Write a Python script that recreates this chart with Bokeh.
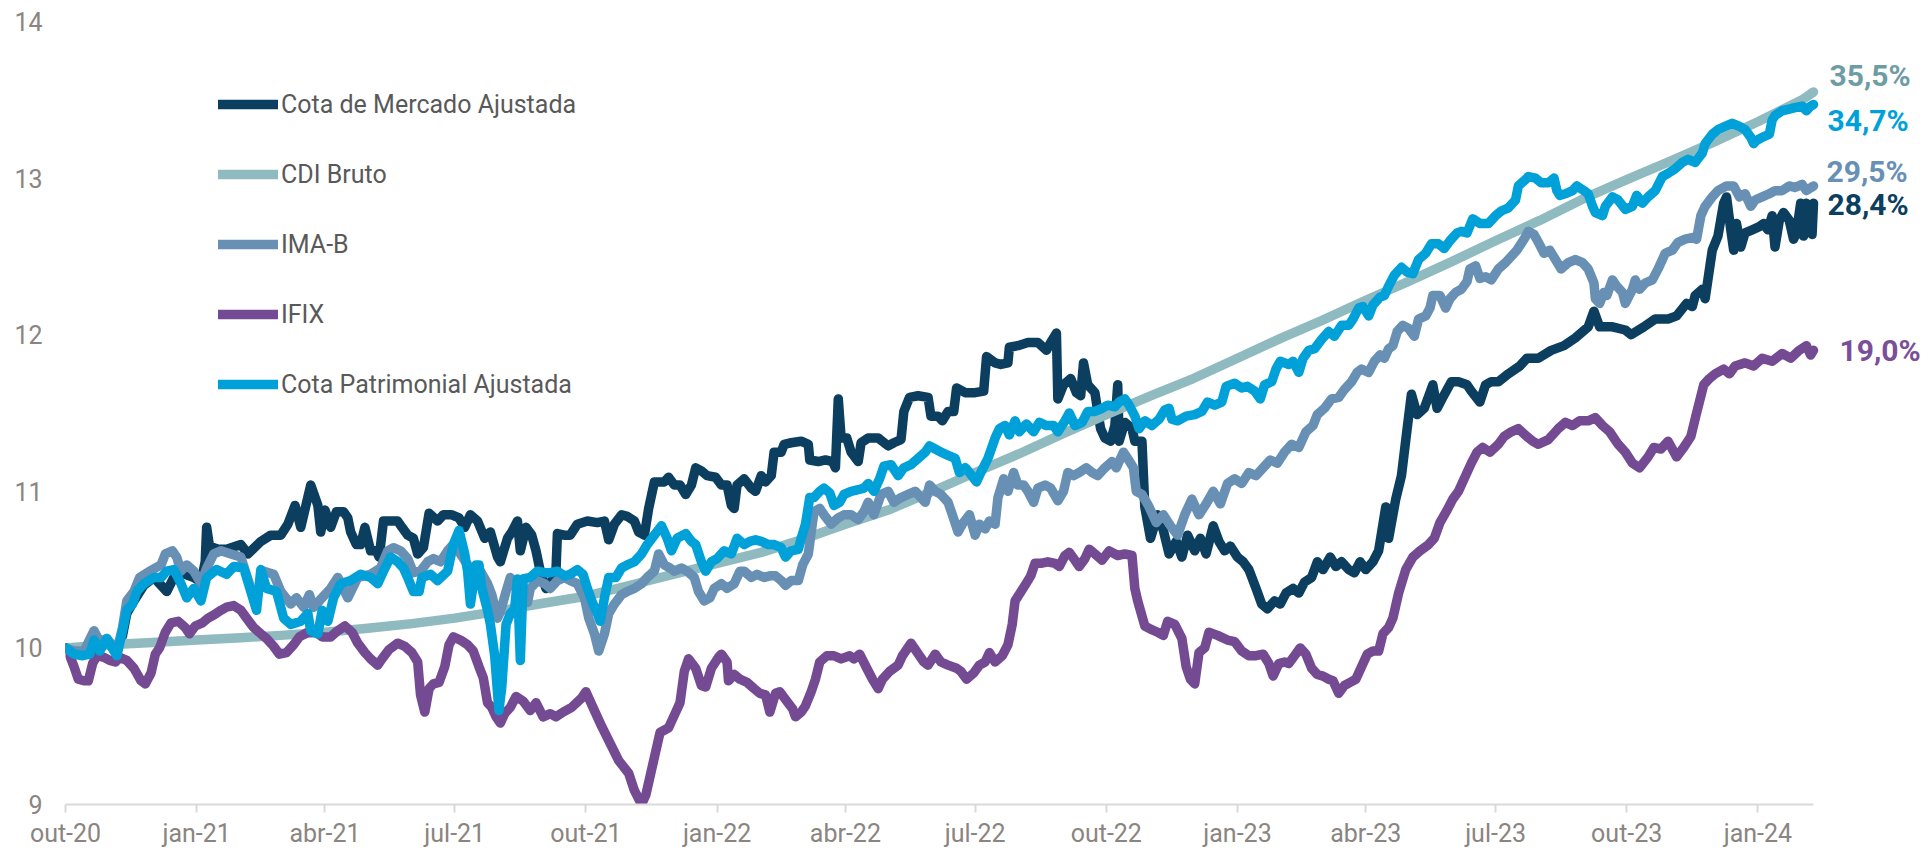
from datetime import date
from bokeh.plotting import figure
from bokeh.models import Range1d, FixedTicker, Legend, LegendItem, Label
from bokeh.embed import file_html
from bokeh.resources import INLINE

# ---------------- data (day offset from 2020-10-01, index value) ----------------
START = date(2020, 10, 1)

tick_dates = [date(2020, 10, 1), date(2021, 1, 1), date(2021, 4, 1), date(2021, 7, 1),
              date(2021, 10, 1), date(2022, 1, 1), date(2022, 4, 1), date(2022, 7, 1),
              date(2022, 10, 1), date(2023, 1, 1), date(2023, 4, 1), date(2023, 7, 1),
              date(2023, 10, 1), date(2024, 1, 1)]
tick_labels = ["out-20", "jan-21", "abr-21", "jul-21", "out-21", "jan-22", "abr-22",
               "jul-22", "out-22", "jan-23", "abr-23", "jul-23", "out-23", "jan-24"]
y_ticks = [9, 10, 11, 12, 13, 14]

series_names = ["Cota de Mercado Ajustada", "CDI Bruto", "IMA-B", "IFIX",
                "Cota Patrimonial Ajustada"]
final_labels = ["28,4%", "35,5%", "29,5%", "19,0%", "34,7%"]

mercado = [(0,10.00),(6,9.97),(13,9.97),(20,10.05),(29,10.04),(36,9.97),(40,10.08),(43,10.22),
    (48,10.30),(55,10.40),(62,10.45),(67,10.40),(71,10.36),(76,10.45),(81,10.48),(90,10.45),
    (95,10.42),(98,10.55),(99,10.77),(101,10.65),(107,10.63),(113,10.63),(123,10.66),(128,10.60),
    (137,10.68),(144,10.72),(151,10.72),(156,10.79),(161,10.91),(165,10.77),(172,11.04),(177,10.91),
    (179,10.74),(182,10.88),(186,10.77),(190,10.87),(195,10.87),(198,10.83),(200,10.74),(204,10.66),
    (207,10.66),(210,10.77),(214,10.62),(218,10.62),(220,10.58),(223,10.81),(233,10.81),(236,10.77),
    (240,10.72),(244,10.70),(247,10.60),(251,10.64),(255,10.86),(261,10.81),(265,10.85),(271,10.85),
    (276,10.83),(280,10.77),(284,10.85),(289,10.81),(294,10.70),(298,10.74),(303,10.58),(305,10.55),
    (310,10.70),(313,10.74),(317,10.81),(319,10.62),(323,10.77),(327,10.72),(330,10.62),(333,10.49),
    (337,10.38),(340,10.40),(344,10.49),(345,10.73),(350,10.72),(354,10.72),(359,10.79),(366,10.81),
    (373,10.80),(378,10.81),(381,10.69),(385,10.79),(390,10.85),(394,10.84),(399,10.81),(402,10.74),
    (406,10.72),(409,10.89),(413,11.06),(420,11.06),(423,11.09),(427,11.04),(431,11.04),(435,10.98),
    (439,11.04),(442,11.15),(446,11.13),(450,11.10),(456,11.09),(460,11.04),(464,11.04),(467,10.91),
    (469,10.89),(471,11.04),(476,11.08),(481,11.02),(484,11.00),(488,11.10),(491,11.06),(495,11.10),
    (497,11.25),(502,11.25),(504,11.30),(509,11.31),(516,11.32),(521,11.30),(522,11.20),(528,11.19),
    (533,11.20),(538,11.19),(540,11.15),(542,11.59),(544,11.34),(548,11.34),(551,11.25),(556,11.19),
    (558,11.31),(563,11.34),(570,11.34),(577,11.29),(581,11.31),(586,11.33),(588,11.51),(592,11.60),
    (598,11.61),(605,11.60),(607,11.48),(612,11.48),(615,11.45),(619,11.51),(623,11.51),(625,11.66),
    (631,11.63),(638,11.63),(644,11.64),(646,11.86),(652,11.82),(656,11.81),(661,11.82),(662,11.92),
    (668,11.93),(675,11.95),(682,11.95),(688,11.90),(691,11.95),(695,12.01),(696,11.59),(700,11.68),
    (705,11.72),(709,11.63),(712,11.61),(714,11.82),(717,11.68),(722,11.63),(724,11.51),(726,11.40),
    (729,11.34),(733,11.32),(736,11.42),(738,11.68),(739,11.32),(743,11.44),(748,11.40),(750,11.32),
    (755,11.32),(757,10.90),(761,10.70),(766,10.85),(770,10.75),(774,10.60),(779,10.68),(783,10.58),
    (787,10.72),(792,10.62),(796,10.70),(800,10.60),(805,10.78),(809,10.68),(813,10.62),(817,10.65),
    (822,10.58),(826,10.55),(830,10.50),(835,10.38),(839,10.28),(843,10.25),(848,10.30),(852,10.28),
    (856,10.35),(861,10.38),(865,10.35),(869,10.42),(874,10.45),(878,10.55),(882,10.50),(887,10.58),
    (891,10.52),(895,10.55),(900,10.50),(904,10.48),(908,10.55),(912,10.50),(917,10.55),(921,10.62),
    (926,10.90),(928,10.70),(933,10.95),(937,11.10),(941,11.40),(944,11.62),(948,11.49),(953,11.53),
    (959,11.68),(962,11.53),(966,11.60),(972,11.70),(977,11.70),(983,11.68),(986,11.64),(992,11.57),
    (996,11.68),(1000,11.70),(1005,11.70),(1012,11.75),(1020,11.80),(1025,11.85),(1033,11.85),
    (1042,11.90),(1051,11.93),(1059,11.98),(1068,12.05),(1072,12.15),(1076,12.05),(1085,12.05),
    (1094,12.03),(1098,12.00),(1107,12.05),(1115,12.10),(1124,12.10),(1130,12.12),(1137,12.20),
    (1141,12.18),(1143,12.25),(1148,12.29),(1150,12.23),(1155,12.54),(1159,12.63),(1163,12.84),
    (1165,12.88),(1168,12.67),(1170,12.54),(1172,12.71),(1175,12.56),(1178,12.65),(1183,12.67),
    (1188,12.69),(1191,12.71),(1194,12.67),(1197,12.76),(1199,12.56),(1202,12.73),(1205,12.78),
    (1209,12.73),(1212,12.61),(1214,12.65),(1217,12.84),(1219,12.63),(1221,12.84),(1224,12.76),
    (1225,12.64),(1226,12.84)]

cdi = [(0,10.00),(30,10.02),(61,10.035),(92,10.05),(123,10.065),(151,10.08),(182,10.10),(212,10.125),
    (243,10.155),(273,10.19),(304,10.235),(335,10.285),(365,10.33),(396,10.40),(426,10.47),(457,10.54),
    (488,10.61),(516,10.69),(547,10.79),(577,10.88),(608,11.00),(638,11.12),(669,11.24),(700,11.37),
    (730,11.49),(761,11.61),(791,11.72),(822,11.85),(853,11.98),(881,12.09),(912,12.22),(942,12.34),
    (973,12.47),(1003,12.60),(1034,12.73),(1065,12.87),(1095,12.99),(1126,13.11),(1156,13.23),
    (1187,13.36),(1218,13.50),(1226,13.55)]

imab = [(0,10.00),(6,9.98),(13,9.98),(20,10.11),(24,10.04),(29,10.06),(36,9.98),(40,10.13),(43,10.30),
    (48,10.36),(52,10.45),(59,10.49),(67,10.53),(70,10.60),(75,10.62),(78,10.58),(81,10.49),(85,10.53),
    (90,10.49),(95,10.41),(99,10.51),(104,10.60),(109,10.62),(116,10.60),(123,10.58),(130,10.38),
    (134,10.32),(139,10.49),(146,10.47),(151,10.36),(158,10.28),(162,10.32),(167,10.26),(171,10.34),
    (174,10.26),(180,10.32),(186,10.38),(191,10.45),(198,10.32),(205,10.45),(214,10.47),(221,10.51),
    (226,10.62),(230,10.64),(235,10.62),(240,10.57),(244,10.48),(249,10.49),(254,10.55),(258,10.57),
    (263,10.55),(268,10.62),(272,10.66),(277,10.60),(282,10.53),(287,10.49),(291,10.49),(296,10.41),
    (299,10.34),(303,10.19),(305,10.23),(309,10.36),(312,10.45),(316,10.38),(319,10.30),(324,10.29),
    (326,10.38),(331,10.43),(336,10.41),(340,10.38),(345,10.43),(350,10.45),(354,10.43),(359,10.41),
    (364,10.32),(367,10.19),(371,10.09),(374,9.98),(378,10.09),(381,10.22),(385,10.28),(390,10.34),
    (394,10.36),(399,10.38),(404,10.41),(408,10.45),(413,10.49),(416,10.60),(420,10.53),(424,10.51),
    (427,10.49),(432,10.51),(436,10.49),(441,10.45),(444,10.36),(448,10.30),(452,10.32),(455,10.38),
    (460,10.41),(464,10.38),(469,10.41),(473,10.49),(476,10.49),(481,10.45),(485,10.47),(490,10.45),
    (494,10.46),(498,10.46),(502,10.43),(505,10.40),(509,10.43),(514,10.43),(517,10.53),(521,10.60),
    (523,10.74),(525,10.87),(529,10.89),(532,10.85),(537,10.79),(542,10.83),(546,10.85),(551,10.85),
    (556,10.82),(560,10.87),(563,10.93),(567,10.85),(572,10.98),(577,11.00),(581,10.93),(586,10.96),
    (591,10.98),(596,11.00),(599,10.97),(603,10.93),(606,11.04),(610,11.00),(614,10.98),(619,10.93),
    (622,10.85),(626,10.74),(629,10.79),(634,10.85),(638,10.72),(641,10.79),(645,10.76),(648,10.81),
    (652,10.79),(654,10.96),(658,11.08),(661,11.00),(665,11.12),(668,11.04),(672,11.04),(675,11.00),
    (679,10.93),(682,11.02),(687,11.04),(691,11.02),(696,10.94),(700,11.00),(703,11.12),(707,11.10),
    (711,11.12),(716,11.15),(720,11.12),(724,11.10),(729,11.15),(734,11.19),(737,11.15),(742,11.25),
    (745,11.21),(749,11.15),(751,11.00),(755,10.98),(760,10.90),(765,10.80),(770,10.85),(775,10.78),
    (780,10.72),(785,10.85),(790,10.95),(795,10.85),(800,10.92),(805,11.00),(810,10.92),(815,11.05),
    (820,11.08),(825,11.05),(830,11.12),(835,11.10),(840,11.15),(845,11.20),(850,11.18),(855,11.25),
    (860,11.30),(865,11.28),(870,11.38),(875,11.42),(878,11.49),(883,11.53),(888,11.59),(893,11.60),
    (897,11.65),(902,11.70),(906,11.76),(909,11.78),(914,11.76),(918,11.83),(922,11.87),(925,11.85),
    (928,11.91),(931,11.93),(934,12.02),(938,12.06),(942,12.04),(946,11.99),(949,12.10),(954,12.12),
    (957,12.17),(959,12.25),(964,12.25),(968,12.17),(971,12.23),(975,12.27),(979,12.29),(983,12.34),
    (985,12.42),(989,12.44),(992,12.36),(996,12.37),(1000,12.35),(1005,12.42),(1010,12.46),(1014,12.50),
    (1018,12.54),(1023,12.61),(1026,12.66),(1030,12.64),(1033,12.59),(1037,12.52),(1041,12.54),
    (1045,12.48),(1049,12.42),(1054,12.46),(1059,12.48),(1064,12.46),(1068,12.42),(1072,12.33),
    (1073,12.23),(1076,12.20),(1079,12.27),(1081,12.25),(1085,12.35),(1088,12.31),(1092,12.27),
    (1094,12.20),(1099,12.29),(1101,12.35),(1104,12.29),(1108,12.33),(1113,12.35),(1117,12.42),
    (1122,12.52),(1127,12.54),(1131,12.59),(1136,12.61),(1141,12.62),(1144,12.61),(1147,12.76),
    (1150,12.82),(1155,12.88),(1159,12.92),(1165,12.95),(1170,12.95),(1174,12.88),(1178,12.90),
    (1182,12.82),(1185,12.86),(1190,12.88),(1195,12.90),(1199,12.92),(1204,12.92),(1209,12.95),
    (1213,12.94),(1218,12.96),(1221,12.92),(1226,12.95)]

ifix = [(0,10.00),(3,9.95),(6,9.88),(9,9.80),(13,9.79),(16,9.79),(19,9.90),(22,9.95),(27,9.94),
    (31,9.92),(35,9.91),(38,9.94),(43,9.92),(48,9.87),(53,9.79),(56,9.77),(60,9.84),(63,9.96),(66,10.00),
    (70,10.10),(74,10.16),(79,10.17),(84,10.13),(87,10.09),(91,10.14),(96,10.16),(100,10.19),(104,10.21),
    (109,10.24),(113,10.26),(118,10.27),(123,10.24),(127,10.19),(132,10.13),(137,10.09),(141,10.06),
    (146,10.01),(150,9.96),(155,9.97),(160,10.02),(164,10.07),(170,10.10),(176,10.10),(180,10.07),
    (186,10.07),(191,10.11),(196,10.14),(201,10.10),(205,10.03),(210,9.97),(214,9.93),(219,9.89),
    (222,9.93),(227,9.99),(233,10.03),(238,10.01),(243,9.97),(247,9.91),(249,9.70),(252,9.59),(255,9.74),
    (258,9.77),(262,9.78),(266,9.88),(269,10.02),(272,10.07),(277,10.05),(282,10.02),(286,9.98),(290,9.88),
    (293,9.81),(296,9.65),(299,9.62),(302,9.56),(305,9.52),(308,9.58),(312,9.62),(316,9.69),(321,9.66),
    (326,9.60),(330,9.65),(335,9.56),(340,9.58),(344,9.56),(349,9.59),(355,9.62),(362,9.68),(365,9.72),
    (370,9.62),(376,9.50),(382,9.39),(388,9.28),(395,9.20),(399,9.09),(404,9.00),(407,9.06),(413,9.30),
    (417,9.46),(423,9.49),(426,9.55),(431,9.65),(434,9.85),(437,9.93),(442,9.87),(446,9.76),(449,9.75),
    (453,9.87),(458,9.94),(460,9.96),(464,9.91),(465,9.79),(469,9.83),(473,9.80),(478,9.78),(483,9.74),
    (487,9.71),(491,9.70),(494,9.59),(498,9.71),(501,9.72),(505,9.67),(510,9.61),(512,9.56),(516,9.59),
    (519,9.63),(523,9.72),(526,9.80),(529,9.91),(534,9.95),(539,9.95),(544,9.93),(550,9.95),(553,9.93),
    (557,9.96),(562,9.87),(566,9.80),(570,9.74),(573,9.80),(578,9.85),(584,9.89),(587,9.95),(593,10.03),
    (596,9.99),(602,9.91),(605,9.89),(610,9.96),(614,9.91),(619,9.89),(625,9.87),(628,9.85),(632,9.80),
    (637,9.84),(641,9.89),(645,9.91),(648,9.97),(652,9.91),(657,9.95),(661,10.02),(664,10.15),(666,10.30),
    (673,10.40),(677,10.46),(680,10.54),(684,10.54),(689,10.55),(694,10.54),(697,10.52),(701,10.59),
    (704,10.61),(708,10.56),(711,10.52),(715,10.57),(718,10.63),(722,10.60),(727,10.56),(732,10.62),
    (738,10.59),(743,10.60),(748,10.59),(750,10.38),(752,10.30),(757,10.14),(761,10.12),(766,10.10),
    (770,10.08),(773,10.17),(778,10.15),(783,10.06),(786,9.88),(789,9.80),(792,9.77),(795,9.97),(799,10.00),
    (802,10.10),(808,10.08),(815,10.05),(820,10.04),(825,9.98),(830,9.95),(835,9.95),(840,9.96),(844,9.90),
    (847,9.82),(851,9.90),(855,9.91),(858,9.90),(862,9.95),(866,10.00),(870,9.96),(874,9.87),(878,9.83),
    (882,9.82),(886,9.80),(889,9.79),(893,9.71),(897,9.76),(901,9.78),(905,9.80),(909,9.88),(913,9.96),
    (917,9.98),(921,9.98),(924,10.09),(928,10.13),(931,10.19),(935,10.35),(940,10.50),(945,10.58),
    (950,10.62),(956,10.66),(960,10.70),(964,10.80),(969,10.88),(973,10.95),(977,11.00),(982,11.10),
    (986,11.18),(990,11.25),(994,11.28),(999,11.25),(1005,11.30),(1009,11.35),(1014,11.38),(1019,11.40),
    (1025,11.35),(1029,11.32),(1033,11.30),(1040,11.33),(1047,11.40),(1052,11.44),(1057,11.42),
    (1062,11.45),(1068,11.45),(1073,11.47),(1078,11.42),(1083,11.38),(1089,11.30),(1094,11.25),
    (1099,11.18),(1104,11.15),(1110,11.22),(1114,11.28),(1119,11.27),(1124,11.32),(1130,11.22),
    (1135,11.28),(1140,11.35),(1144,11.50),(1149,11.68),(1153,11.72),(1157,11.75),(1163,11.78),
    (1167,11.75),(1171,11.80),(1178,11.82),(1184,11.80),(1190,11.85),(1197,11.83),(1204,11.88),
    (1210,11.85),(1216,11.90),(1221,11.93),(1224,11.87),(1226,11.90)]

patrimonial = [(0,10.00),(6,9.96),(12,9.95),(17,9.96),(20,10.05),(24,9.98),(29,10.06),(34,9.98),(36,9.95),
    (40,10.11),(43,10.24),(47,10.28),(50,10.36),(55,10.41),(62,10.45),(67,10.45),(71,10.49),(76,10.50),
    (81,10.41),(85,10.32),(90,10.38),(95,10.30),(99,10.45),(106,10.50),(113,10.47),(118,10.52),(125,10.51),
    (130,10.36),(134,10.24),(137,10.50),(141,10.38),(148,10.36),(153,10.19),(158,10.15),(165,10.17),
    (170,10.22),(172,10.11),(177,10.09),(180,10.24),(184,10.17),(188,10.32),(193,10.41),(200,10.43),
    (207,10.47),(214,10.45),(219,10.41),(223,10.49),(228,10.58),(233,10.55),(237,10.51),(240,10.45),
    (244,10.36),(248,10.36),(250,10.45),(256,10.47),(261,10.43),(268,10.49),(272,10.66),(276,10.75),
    (280,10.60),(282,10.49),(284,10.28),(288,10.53),(290,10.53),(292,10.38),(296,10.24),(298,10.15),
    (301,9.95),(304,9.60),(306,9.75),(309,10.15),(312,10.22),(315,10.25),(317,10.44),(319,9.92),
    (321,10.44),(326,10.45),(331,10.49),(336,10.48),(340,10.48),(345,10.49),(350,10.46),(354,10.47),
    (359,10.50),(363,10.47),(366,10.38),(370,10.28),(373,10.22),(375,10.17),(378,10.32),(381,10.45),
    (386,10.45),(390,10.51),(394,10.53),(399,10.55),(404,10.60),(408,10.66),(413,10.72),(418,10.78),
    (422,10.70),(425,10.62),(429,10.70),(435,10.73),(439,10.68),(442,10.66),(446,10.55),(449,10.49),
    (453,10.55),(457,10.57),(462,10.62),(467,10.60),(471,10.70),(476,10.66),(480,10.68),(484,10.69),
    (488,10.68),(493,10.66),(497,10.66),(502,10.64),(505,10.58),(509,10.62),(514,10.63),(516,10.70),
    (519,10.79),(522,10.96),(525,10.96),(529,11.00),(532,11.02),(536,10.99),(539,10.91),(543,10.93),
    (546,10.98),(551,11.00),(556,11.01),(560,11.02),(563,11.05),(567,11.00),(571,11.08),(574,11.16),
    (579,11.17),(584,11.10),(588,11.15),(593,11.17),(598,11.21),(603,11.25),(606,11.29),(610,11.27),
    (614,11.25),(619,11.23),(624,11.21),(627,11.12),(631,11.15),(634,11.12),(639,11.06),(642,11.12),
    (647,11.21),(652,11.34),(655,11.40),(659,11.42),(662,11.36),(666,11.45),(669,11.38),(674,11.43),
    (679,11.38),(683,11.44),(688,11.42),(693,11.42),(696,11.38),(701,11.45),(704,11.50),(708,11.42),
    (713,11.44),(717,11.51),(722,11.51),(727,11.53),(731,11.55),(736,11.54),(739,11.57),(743,11.59),
    (746,11.55),(750,11.48),(753,11.40),(757,11.45),(762,11.42),(767,11.46),(771,11.52),(774,11.53),
    (776,11.46),(780,11.45),(786,11.48),(792,11.49),(797,11.51),(801,11.57),(806,11.55),(811,11.57),
    (814,11.67),(820,11.69),(825,11.66),(829,11.67),(834,11.64),(838,11.59),(841,11.68),(846,11.70),
    (849,11.78),(852,11.83),(858,11.81),(861,11.83),(865,11.76),(868,11.85),(872,11.90),(876,11.91),
    (881,11.97),(886,12.02),(890,11.99),(895,12.06),(900,12.06),(903,12.10),(907,12.17),(910,12.18),
    (914,12.12),(917,12.19),(922,12.24),(925,12.25),(928,12.31),(932,12.38),(937,12.43),(941,12.40),
    (945,12.39),(949,12.48),(954,12.52),(958,12.58),(963,12.58),(967,12.55),(971,12.60),(976,12.65),
    (979,12.66),(983,12.65),(987,12.74),(992,12.71),(998,12.71),(1003,12.76),(1007,12.79),(1012,12.81),
    (1017,12.86),(1019,12.95),(1024,12.99),(1026,13.01),(1031,13.00),(1035,12.97),(1040,12.97),
    (1044,13.00),(1046,12.92),(1048,12.89),(1052,12.90),(1057,12.92),(1060,12.95),(1065,12.92),
    (1068,12.90),(1071,12.82),(1073,12.78),(1078,12.76),(1080,12.82),(1085,12.88),(1089,12.86),
    (1094,12.80),(1099,12.82),(1102,12.89),(1106,12.84),(1110,12.88),(1115,12.92),(1120,13.01),
    (1124,13.03),(1129,13.06),(1134,13.10),(1138,13.12),(1143,13.10),(1148,13.16),(1150,13.22),
    (1155,13.28),(1159,13.31),(1164,13.33),(1169,13.35),(1174,13.33),(1178,13.31),(1182,13.26),
    (1184,13.22),(1186,13.24),(1190,13.26),(1195,13.28),(1197,13.37),(1199,13.40),(1204,13.43),
    (1209,13.44),(1213,13.45),(1218,13.46),(1221,13.43),(1224,13.46),(1226,13.47)]

# ---------------- layout / styles ----------------
line_colors = ["#0C3F5F", "#8FBAC0", "#6790B4", "#744B93", "#00A0D8"]
label_colors = ["#0C3F5F", "#6E9CA5", "#6790B4", "#7A4F9A", "#00A0D8"]
label_dx = [14, 16, 13, 26, 14]
label_dy = [-1, 16, 14, 0, -16]
FONT = "Roboto"
AXIS_GRAY = "#8A8580"

W, H = 1928, 850
FRAME_LEFT, FRAME_TOP, BORDER_BOTTOM = 65, 21, 42
DATA_END_PX = 1813          # pixel where the last date sits

all_series = [mercado, cdi, imab, ifix, patrimonial]
tick_days = [(d - START).days for d in tick_dates]
x_end = max(t for t, _ in patrimonial)
x_view_end = x_end * (W - FRAME_LEFT) / (DATA_END_PX - FRAME_LEFT)

p = figure(width=W, height=H, x_range=Range1d(0, x_view_end), y_range=Range1d(9, 14),
           output_backend="svg", toolbar_location=None,
           min_border_left=FRAME_LEFT, min_border_right=0, min_border_top=FRAME_TOP,
           min_border_bottom=BORDER_BOTTOM)
p.outline_line_color = None
p.grid.visible = False
p.background_fill_color = "white"
p.border_fill_color = "white"

renderers = []
for data, color in zip(all_series, line_colors):
    xs = [t for t, _ in data]
    ys = [v for _, v in data]
    r = p.line(xs, ys, line_color=color, line_width=9.5, line_join="round", line_cap="round")
    renderers.append(r)

# x axis
xa = p.xaxis[0]
xa.bounds = (0, x_end)
xa.ticker = FixedTicker(ticks=tick_days)
xa.major_label_overrides = {d: lab for d, lab in zip(tick_days, tick_labels)}
xa.axis_line_color = "#D9D9D9"
xa.axis_line_width = 2
xa.major_tick_line_color = "#D9D9D9"
xa.major_tick_line_width = 2
xa.major_tick_out = 8
xa.major_tick_in = 0
xa.minor_tick_line_color = None
xa.major_label_standoff = 6
xa.major_label_text_font = FONT
xa.major_label_text_font_size = "25px"
xa.major_label_text_color = AXIS_GRAY

# y axis
ya = p.yaxis[0]
ya.ticker = FixedTicker(ticks=y_ticks)
ya.axis_line_color = None
ya.major_tick_line_color = None
ya.minor_tick_line_color = None
ya.major_tick_out = 0
ya.major_tick_in = 0
ya.major_label_standoff = 23
ya.major_label_text_font = FONT
ya.major_label_text_font_size = "25px"
ya.major_label_text_color = AXIS_GRAY

# legend
items = [LegendItem(label=n, renderers=[r]) for n, r in zip(series_names, renderers)]
legend = Legend(items=items, location=(153, 405), orientation="vertical",
                glyph_width=60, glyph_height=30, label_height=30, spacing=40,
                label_standoff=3, padding=0, margin=0,
                border_line_color=None, background_fill_alpha=0,
                label_text_font=FONT, label_text_font_size="25px",
                label_text_color="#595959")
p.add_layout(legend, "center")

# end-of-line labels
for data, txt, col, dx, dy in zip(all_series, final_labels, label_colors, label_dx, label_dy):
    t_last, v_last = data[-1]
    p.add_layout(Label(x=t_last, y=v_last, x_offset=dx, y_offset=dy, text=txt,
                       text_font=FONT, text_font_size="30px", text_font_style="bold",
                       text_color=col, text_baseline="middle", text_align="left"))

open("out.html", "w").write(file_html(p, INLINE))
